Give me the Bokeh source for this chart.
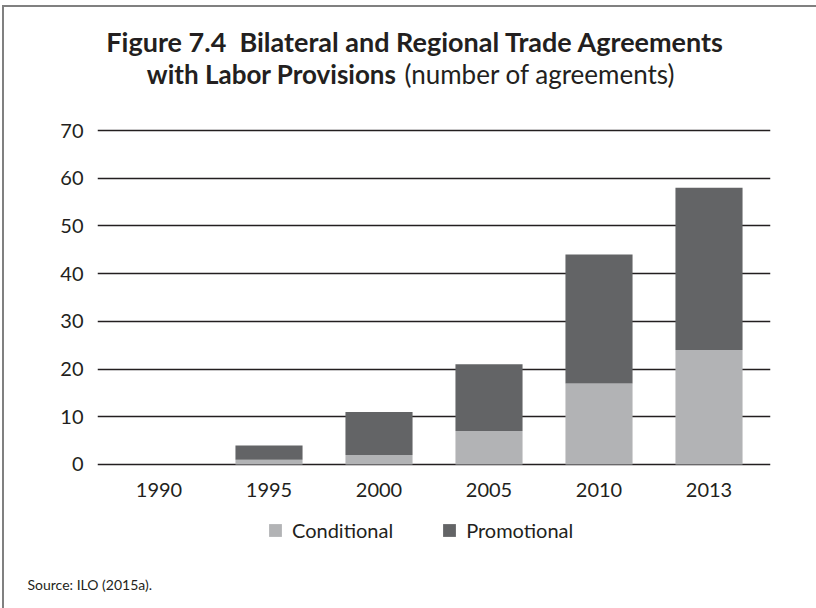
from bokeh.plotting import figure
from bokeh.layouts import column
from bokeh.models import FactorRange, Range1d, FixedTicker, Legend, LegendItem, ColumnDataSource, Title
from bokeh.core.properties import value
from bokeh.embed import file_html
from bokeh.resources import INLINE

years = ["1990", "1995", "2000", "2005", "2010", "2013"]
conditional = [0, 1, 2, 7, 17, 24]
promotional = [0, 3, 9, 14, 27, 34]
y_ticks = [0, 10, 20, 30, 40, 50, 60, 70]
series = ["Conditional", "Promotional"]
colors = ["#b2b3b5", "#636466"]
title_1 = "Figure 7.4\u00a0 Bilateral and Regional Trade Agreements"
title_2_bold = "with Labor Provisions"
title_2_normal = "(number of agreements)"
source_note = "Source: ILO (2015a)."
TXT = "#231f20"
FONT = "Lato"
W = 812
L, R = 93, 46   # frame borders of the chart (frames are aligned in the column)


def blank(h, bottom=0):
    f = figure(width=W, height=h, x_range=Range1d(L, W - R), y_range=Range1d(0, 1),
               output_backend="svg", toolbar_location=None,
               x_axis_location=None, y_axis_location=None,
               min_border_left=L, min_border_right=R, min_border_top=0, min_border_bottom=bottom)
    f.grid.visible = False
    f.outline_line_color = None
    return f


# ---- heading
head = blank(106)
head.y_range = Range1d(0, 106)
head.text(x=[411], y=[72], text=[title_1], text_font=value(FONT), text_font_style="bold",
          text_font_size="27px", text_color=TXT, text_align="center", text_baseline="alphabetic")
head.text(x=[392], y=[40], text=[title_2_bold], text_font=value(FONT), text_font_style="bold",
          text_font_size="26px", text_color=TXT, text_align="right", text_baseline="alphabetic")
head.text(x=[400], y=[40], text=[title_2_normal], text_font=value(FONT), text_font_style="normal",
          text_font_size="26px", text_color=TXT, text_align="left", text_baseline="alphabetic")

# ---- chart
src = ColumnDataSource(dict(years=years, Conditional=conditional, Promotional=promotional))
p = figure(x_range=FactorRange(factors=years, range_padding=0.0197),
           y_range=Range1d(-0.42, 71.26),
           width=W, height=393, output_backend="svg", toolbar_location=None,
           min_border_left=L, min_border_right=R, min_border_top=11, min_border_bottom=40)
p.vbar_stack(series, x="years", width=0.61, source=src, color=colors, line_width=0)
p.outline_line_color = None
p.xgrid.grid_line_color = None
p.ygrid.grid_line_color = TXT
p.ygrid.grid_line_width = 1.6
p.yaxis.ticker = FixedTicker(ticks=y_ticks)
for ax in (p.xaxis[0], p.yaxis[0]):
    ax.axis_line_color = None
    ax.major_tick_line_color = None
    ax.minor_tick_line_color = None
    ax.major_tick_out = 0
    ax.major_tick_in = 0
    ax.major_label_text_font = FONT
    ax.major_label_text_font_size = "20px"
    ax.major_label_text_color = TXT
p.yaxis.major_label_standoff = 14
p.xaxis.major_label_standoff = 16

# ---- legend and source
foot = blank(102, bottom=35)
nan = float("nan")
dummies = [foot.vbar(x=[nan], top=[nan], width=1, color=c, line_width=0) for c in colors]
legend = Legend(items=[LegendItem(label=s, renderers=[r]) for s, r in zip(series, dummies)],
                orientation="horizontal", location=(170, 31),
                glyph_width=16, glyph_height=16, label_standoff=9, spacing=48,
                label_text_font=FONT, label_text_font_size="20px", label_text_color=TXT,
                border_line_color=None, background_fill_alpha=0, padding=0, margin=0)
foot.add_layout(legend, "center")
foot.add_layout(Title(text=source_note, align="left", offset=-70, standoff=0,
                      text_font=FONT, text_font_size="14px", text_font_style="normal",
                      text_color=TXT), "below")

layout = column(head, p, foot, spacing=0,
                styles={"border-top": "2px solid #808080", "border-left": "2px solid #808080",
                        "margin-top": "5px", "margin-left": "2px"})

open("out.html", "w").write(file_html(layout, INLINE))
